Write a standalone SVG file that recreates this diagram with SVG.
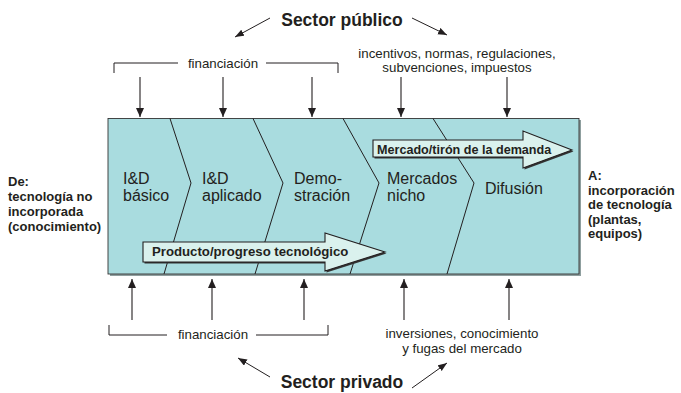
<svg xmlns="http://www.w3.org/2000/svg" width="681" height="393" viewBox="0 0 681 393">
<defs>
<marker id="ah" markerUnits="userSpaceOnUse" markerWidth="10" markerHeight="8" refX="9" refY="4" orient="auto"><path d="M0,0 L9,4 L0,8 z" fill="#231f20"/></marker>
<marker id="ahs" markerUnits="userSpaceOnUse" markerWidth="10" markerHeight="8" refX="9" refY="3.5" orient="auto"><path d="M0,0 L9,3.5 L0,7 z" fill="#231f20"/></marker>
<style>
.t{font-family:"Liberation Sans",Arial,sans-serif;fill:#231f20}
.s{font-size:13.3px}
.st{font-size:16px}
.b{font-weight:bold}
.big{font-size:17.5px;font-weight:bold}
.ln{stroke:#231f20;stroke-width:1;fill:none}
.con{stroke:#231f20;stroke-width:1.1;fill:none;marker-end:url(#ah)}
.sec{stroke:#231f20;stroke-width:1;fill:none;marker-end:url(#ahs)}
.arr{fill:#daf1ed;stroke:#231f20;stroke-width:1.1}
</style>
</defs>
<g id="box">
<rect x="110" y="120" width="471" height="156" fill="#8f9f9f"/>
<rect x="108" y="118.5" width="471" height="155.5" fill="#a9dcdf" stroke="#333" stroke-width="0.9"/>
<polyline class="ln" points="170,118.5 191,183 164,274"/>
<polyline class="ln" points="253,118.5 283,183 255,274"/>
<polyline class="ln" points="343,118.5 379,183 350,274"/>
<polyline class="ln" points="433,118.5 474,183 447,274"/>
</g>
<g id="stage1"><text class="t st" x="123" y="184">I&amp;D</text><text class="t st" x="123" y="200.5">básico</text></g>
<g id="stage2"><text class="t st" x="202" y="184">I&amp;D</text><text class="t st" x="202" y="200.5">aplicado</text></g>
<g id="stage3"><text class="t st" x="294" y="184">Demo-</text><text class="t st" x="294" y="200.5">stración</text></g>
<g id="stage4"><text class="t st" x="387" y="184">Mercados</text><text class="t st" x="387" y="200.5">nicho</text></g>
<g id="stage5"><text class="t st" x="485" y="194">Difusión</text></g>
<g id="arrow-market">
<polygon points="374.5,141.5 524.5,141.5 524.5,132.5 573.5,151.5 524.5,169.5 524.5,158.5 374.5,158.5" fill="#333"/>
<polygon class="arr" points="373,140 523,140 523,131 572,150 523,168 523,157 373,157"/>
<text class="t b" x="377" y="154" font-size="12.6">Mercado/tirón de la demanda</text>
</g>
<g id="arrow-product">
<polygon points="144.5,243.5 326.5,243.5 326.5,234.5 386.5,253.5 326.5,272.5 326.5,263.5 144.5,263.5" fill="#333"/>
<polygon class="arr" points="143,242 325,242 325,233 385,252 325,271 325,262 143,262"/>
<text class="t b" x="152" y="256" font-size="13.2">Producto/progreso tecnológico</text>
</g>
<g id="label-from">
<text class="t b" font-size="13" x="8" y="186">De:</text>
<text class="t b" font-size="13" x="8" y="201">tecnología no</text>
<text class="t b" font-size="13" x="8" y="216">incorporada</text>
<text class="t b" font-size="13" x="8" y="230.5">(conocimiento)</text>
</g>
<g id="label-to">
<text class="t b" font-size="13" x="588" y="180">A:</text>
<text class="t b" font-size="13" x="588" y="194.5">incorporación</text>
<text class="t b" font-size="13" x="588" y="209">de tecnología</text>
<text class="t b" font-size="13" x="588" y="223.5">(plantas,</text>
<text class="t b" font-size="13" x="588" y="238">equipos)</text>
</g>
<g id="sector-publico">
<text class="t big" x="342" y="26" text-anchor="middle">Sector público</text>
</g>
<g id="publico-financiacion">
<path class="ln" d="M114,73 V63 H178 M266,63 H338 V73"/>
<text class="t s" x="223" y="68" text-anchor="middle">financiación</text>
</g>
<g id="publico-incentivos">
<text class="t s" x="457" y="57.5" text-anchor="middle">incentivos, normas, regulaciones,</text>
<text class="t s" x="457" y="71.5" text-anchor="middle">subvenciones, impuestos</text>
</g>
<g id="sector-privado">
<text class="t big" x="342" y="388" text-anchor="middle">Sector privado</text>
</g>
<g id="privado-financiacion">
<path class="ln" d="M109,325 V335 H167 M256,335 H328 V325"/>
<text class="t s" x="213" y="339" text-anchor="middle">financiación</text>
</g>
<g id="privado-inversiones">
<text class="t s" x="462" y="338" text-anchor="middle">inversiones, conocimiento</text>
<text class="t s" x="462" y="352.5" text-anchor="middle">y fugas del mercado</text>
</g>
<g id="connectors">
<line class="sec" x1="270" y1="18" x2="235" y2="37"/>
<line class="sec" x1="412" y1="18" x2="447" y2="35"/>
<line class="sec" x1="270" y1="377" x2="238" y2="358"/>
<line class="sec" x1="412" y1="388" x2="447" y2="363"/>
<line class="con" x1="140" y1="77" x2="140" y2="117"/>
<line class="con" x1="223" y1="77" x2="223" y2="117"/>
<line class="con" x1="312" y1="77" x2="312" y2="117"/>
<line class="con" x1="401" y1="77" x2="401" y2="117"/>
<line class="con" x1="507" y1="77" x2="507" y2="117"/>
<line class="con" x1="132" y1="320" x2="132" y2="279"/>
<line class="con" x1="212" y1="320" x2="212" y2="279"/>
<line class="con" x1="304" y1="320" x2="304" y2="279"/>
<line class="con" x1="404" y1="320" x2="404" y2="279"/>
<line class="con" x1="509" y1="320" x2="509" y2="279"/>
</g>
</svg>
